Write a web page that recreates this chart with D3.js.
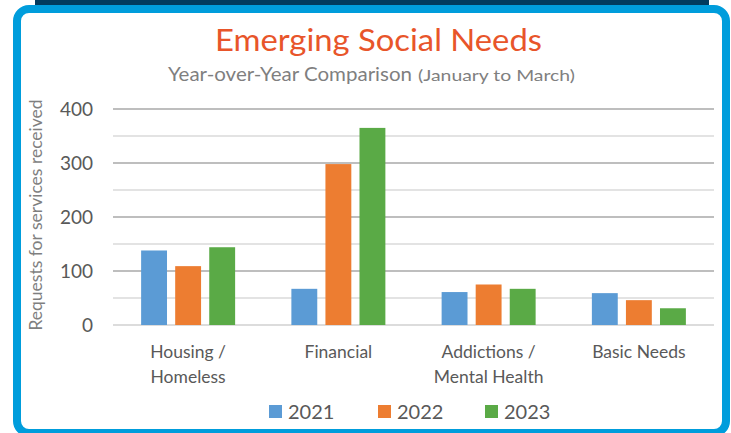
<!DOCTYPE html>
<html><head><meta charset="utf-8">
<script src="https://cdn.jsdelivr.net/npm/d3@7"></script>
<style>body{margin:0;background:#fff}svg{display:block}</style>
</head><body>
<svg id="c" width="731" height="433"></svg>
<script>
const categories = [["Housing /","Homeless"],["Financial"],["Addictions /","Mental Health"],["Basic Needs"]];
const seriesNames = ["2021","2022","2023"];
const v2021 = [138, 67, 61, 59];
const v2022 = [109, 298, 75, 46];
const v2023 = [144, 365, 67, 31];
const majorTicks = [0,100,200,300,400];
const minorTicks = [50,150,250,350];
const colors = ["#5B9BD5","#ED7D31","#5AAA46"];
const series = [v2021, v2022, v2023];

const svg = d3.select("#c");
const font = "Lato, 'Open Sans', sans-serif";

// frame
svg.append("rect").attr("x",35).attr("y",-5).attr("width",674).attr("height",10).attr("fill","#023B5E");
svg.append("rect").attr("x",17).attr("y",9).attr("width",709).attr("height",424)
  .attr("rx",12).attr("fill","#fff").attr("stroke","#009DDC").attr("stroke-width",8);

const x0 = d3.scaleBand().domain(d3.range(categories.length)).range([113,714]);
const x1 = d3.scaleBand().domain(d3.range(3)).range([0,94]).paddingInner(0.24);
const y = d3.scaleLinear().domain([0,400]).range([325,109]);

const g = svg.append("g");
g.selectAll(".minor").data(minorTicks).join("line")
  .attr("x1",113).attr("x2",714).attr("y1",d=>y(d)).attr("y2",d=>y(d))
  .attr("stroke","#DADADA").attr("stroke-width",1.3);
g.selectAll(".major").data(majorTicks).join("line")
  .attr("x1",113).attr("x2",714).attr("y1",d=>y(d)).attr("y2",d=>y(d))
  .attr("stroke",d=>d===0?"#D0D0D0":"#A8A8A8").attr("stroke-width",1.3);

series.forEach((vals,si)=>{
  g.selectAll(".b"+si).data(vals).join("rect")
    .attr("x",(d,i)=>x0(i)+(x0.bandwidth()-94)/2+x1(si))
    .attr("width",x1.bandwidth())
    .attr("y",d=>y(d)).attr("height",d=>y(0)-y(d))
    .attr("fill",colors[si]);
});

// y tick labels
g.selectAll(".yt").data(majorTicks).join("text")
  .attr("x",93).attr("y",d=>y(d)+7).attr("text-anchor","end")
  .attr("font-family",font).attr("font-size",19).attr("fill","#595959").text(d=>d);

// category labels
categories.forEach((lines,i)=>{
  const t = g.append("text").attr("text-anchor","middle").attr("font-family",font)
    .attr("font-size",17.5).attr("fill","#595959");
  lines.forEach((l,k)=>t.append("tspan").attr("x",x0(i)+x0.bandwidth()/2).attr("y",358+k*25).text(l));
});

// axis title
svg.append("text").attr("transform","translate(42,215) rotate(-90)").attr("text-anchor","middle")
  .attr("font-family",font).attr("font-size",17.5).attr("fill","#7F7F7F").text("Requests for services received");

// titles
svg.append("text").attr("x",378.5).attr("y",51).attr("text-anchor","middle").attr("font-family",font)
  .attr("font-size",31).attr("textLength",327).attr("lengthAdjust","spacingAndGlyphs")
  .attr("fill","#E8552A").text("Emerging Social Needs");
svg.append("text").attr("x",168).attr("y",81).attr("font-family",font).attr("font-size",19)
  .attr("textLength",244).attr("lengthAdjust","spacingAndGlyphs")
  .attr("fill","#7F7F7F").text("Year-over-Year Comparison");
svg.append("text").attr("x",418).attr("y",81).attr("font-family",font).attr("font-size",16)
  .attr("textLength",157).attr("lengthAdjust","spacingAndGlyphs")
  .attr("fill","#7F7F7F").text("(January to March)");

// legend
const lx = [269,378,485];
seriesNames.forEach((n,i)=>{
  svg.append("rect").attr("x",lx[i]).attr("y",405).attr("width",13).attr("height",13).attr("fill",colors[i]);
  svg.append("text").attr("x",lx[i]+19).attr("y",419).attr("font-family",font).attr("font-size",20)
    .attr("fill","#595959").text(n);
});
</script>
</body></html>
